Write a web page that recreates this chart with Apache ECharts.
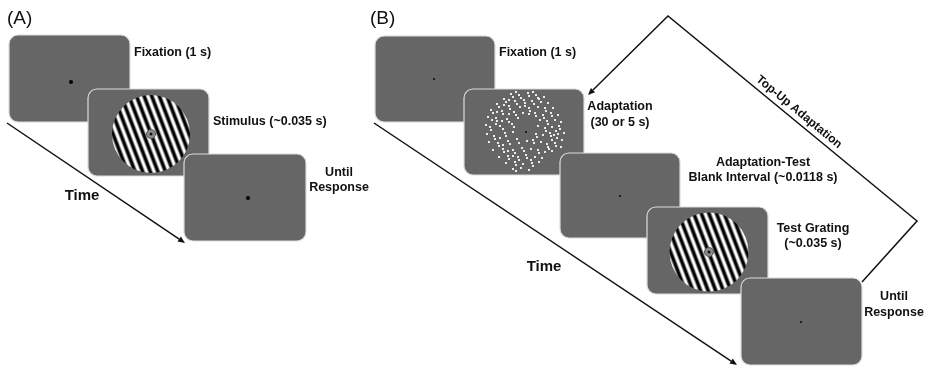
<!DOCTYPE html>
<html>
<head>
<meta charset="utf-8">
<script src="https://cdn.jsdelivr.net/npm/echarts@6/dist/echarts.min.js"></script>
<style>
  html, body { margin: 0; padding: 0; background: #fff; }
  #main { width: 930px; height: 366px; }
</style>
</head>
<body>
<div id="main"></div>
<script>
// screens, in drawing order: [left, top, right, bottom] in picture units
var screens = [
  [9, 35, 130, 122],
  [88, 89, 209, 176],
  [184, 154, 306, 241],
  [375, 36, 495, 122],
  [464, 89, 584, 175],
  [560, 153, 680, 238],
  [647, 207, 768, 294],
  [741, 278, 862, 365]
];
// grating discs: [cx, cy, radius]
var gratings = [[151, 134, 39], [709, 252, 39.5]];
// fixation points
var fixationA = [[71, 82], [248, 198]];
var fixationB = [[434, 79], [526, 132], [620, 196], [801, 322]];
// adaptation dot field (B, second screen)
var adaptDots = [
  [511, 94], [513, 97], [519, 95], [521, 98], [528, 93], [529, 96], [536, 95], [538, 98], [544, 97], [516, 92], [533, 92],
  [504, 99], [506, 102], [515, 101], [517, 104], [524, 100], [525, 103], [532, 101], [534, 104], [541, 102], [548, 103], [509, 100], [539, 99],
  [497, 104], [499, 107], [509, 106], [510, 109], [520, 107], [529, 108], [530, 111], [538, 107], [545, 108], [546, 111], [553, 108], [504, 105], [525, 106],
  [491, 110], [493, 113], [502, 111], [503, 114], [514, 112], [516, 115], [523, 113], [535, 113], [536, 116], [543, 115], [551, 113], [552, 116], [558, 115], [497, 112], [509, 114], [529, 114],
  [488, 117], [496, 118], [497, 121], [507, 119], [509, 122], [518, 118], [540, 120], [547, 121], [548, 124], [555, 120], [561, 122], [492, 120], [502, 121], [544, 118],
  [486, 125], [490, 127], [491, 130], [500, 126], [503, 129], [512, 124], [514, 127], [538, 126], [545, 128], [546, 131], [552, 127], [559, 126], [560, 129], [564, 133], [496, 124], [556, 131],
  [487, 134], [494, 136], [495, 139], [505, 133], [506, 136], [513, 132], [517, 139], [536, 134], [537, 137], [543, 135], [550, 133], [551, 136], [557, 138], [562, 140], [500, 138], [554, 135], [558, 134],
  [489, 142], [498, 143], [499, 146], [508, 141], [510, 144], [519, 143], [527, 141], [533, 140], [534, 143], [541, 142], [547, 144], [548, 147], [555, 143], [556, 146], [561, 147], [503, 145], [552, 140],
  [493, 150], [503, 149], [504, 152], [513, 150], [515, 153], [522, 148], [524, 151], [531, 149], [538, 150], [539, 153], [545, 152], [552, 151], [508, 151], [549, 149],
  [499, 157], [508, 156], [509, 159], [518, 157], [526, 155], [527, 158], [535, 157], [542, 158], [513, 156], [531, 160],
  [506, 163], [515, 162], [516, 165], [523, 164], [532, 163], [533, 166], [539, 162], [519, 160],
  [513, 169], [521, 168], [529, 170], [516, 171]
];
// arrows (last point carries the head)
var timeArrowA = [[7, 123], [185, 243]];
var timeArrowB = [[374, 123], [737, 365]];
var topUpPath = [[862, 282], [917, 221], [668, 16], [588, 95]];
// texts
var labels = [
  { text: '(A)', at: [7, 19], align: 'left', kind: 'panel' },
  { text: '(B)', at: [370, 19], align: 'left', kind: 'panel' },
  { text: 'Fixation (1 s)', at: [134, 53], align: 'left' },
  { text: 'Stimulus (~0.035 s)', at: [213, 122], align: 'left' },
  { text: 'Until', at: [339, 173], align: 'center' },
  { text: 'Response', at: [339, 188], align: 'center' },
  { text: 'Time', at: [82, 196], align: 'center', kind: 'time' },
  { text: 'Fixation (1 s)', at: [499, 53], align: 'left' },
  { text: 'Adaptation', at: [620, 107], align: 'center' },
  { text: '(30 or 5 s)', at: [620, 123], align: 'center' },
  { text: 'Adaptation-Test', at: [763, 163], align: 'center' },
  { text: 'Blank Interval (~0.0118 s)', at: [763, 178], align: 'center' },
  { text: 'Test Grating', at: [813, 229], align: 'center' },
  { text: '(~0.035 s)', at: [813, 244], align: 'center' },
  { text: 'Until', at: [894, 297], align: 'center' },
  { text: 'Response', at: [894, 313], align: 'center' },
  { text: 'Time', at: [544, 267], align: 'center', kind: 'time' },
  { text: 'Top-Up Adaptation', at: [799, 112], align: 'center', kind: 'rotated' }
];

(function () {
  var myChart = echarts.init(document.getElementById('main'));

  // sinusoidal grating as a striped gradient
  function gratingFill(cx, cy, r) {
    var ang = 21 * Math.PI / 180; // stripes lean right going down
    var ux = Math.cos(ang), uy = -Math.sin(ang);
    var periods = 2 * r / 7.1;
    var stops = [];
    var n = 200;
    for (var i = 0; i <= n; i++) {
      var t = i / n;
      var s = Math.cos(2 * Math.PI * periods * t);
      var g = Math.round(Math.max(0, Math.min(255, 120 + 150 * s)));
      stops.push({ offset: t, color: 'rgb(' + g + ',' + g + ',' + g + ')' });
    }
    return new echarts.graphic.LinearGradient(
      cx - r * ux, cy - r * uy, cx + r * ux, cy + r * uy, stops, true
    );
  }

  var arrowPaths = [timeArrowA, timeArrowB, topUpPath];

  var option = {
    animation: false,
    grid: { left: 0, right: 0, top: 0, bottom: 0 },
    xAxis: { type: 'value', min: 0, max: 930, show: false },
    yAxis: { type: 'value', min: 0, max: 366, inverse: true, show: false },
    series: [
      {
        name: 'screens',
        type: 'custom',
        silent: true,
        encode: { x: [0, 2], y: [1, 3] },
        renderItem: function (params, api) {
          var p0 = api.coord([api.value(0), api.value(1)]);
          var p1 = api.coord([api.value(2), api.value(3)]);
          return {
            type: 'rect',
            shape: { x: p0[0], y: p0[1], width: p1[0] - p0[0], height: p1[1] - p0[1], r: 9 },
            style: { fill: '#666666', stroke: '#dcdcdc', lineWidth: 1.2 }
          };
        },
        data: screens,
        z: 1
      },
      {
        name: 'gratings',
        type: 'custom',
        silent: true,
        encode: { x: 0, y: 1 },
        renderItem: function (params, api) {
          var c = api.coord([api.value(0), api.value(1)]);
          var r = api.size([api.value(2), 0])[0];
          return {
            type: 'group',
            children: [
              { type: 'circle', shape: { cx: c[0], cy: c[1], r: r }, style: { fill: gratingFill(c[0], c[1], r) } },
              { type: 'circle', shape: { cx: c[0], cy: c[1], r: 4.5 }, style: { fill: '#8a8a8a', stroke: '#555', lineWidth: 1 } },
              { type: 'circle', shape: { cx: c[0], cy: c[1], r: 1.5 }, style: { fill: '#111' } }
            ]
          };
        },
        data: gratings,
        z: 2
      },
      {
        name: 'adaptation dots',
        type: 'scatter',
        silent: true,
        symbol: 'rect',
        symbolSize: [2, 2],
        itemStyle: { color: '#ececec', opacity: 1 },
        data: adaptDots,
        z: 3
      },
      {
        name: 'fixation A',
        type: 'scatter',
        silent: true,
        symbolSize: 4,
        itemStyle: { color: '#000', opacity: 1 },
        data: fixationA,
        z: 3
      },
      {
        name: 'fixation B',
        type: 'scatter',
        silent: true,
        symbolSize: 2.2,
        itemStyle: { color: '#111', opacity: 1 },
        data: fixationB,
        z: 3
      },
      {
        name: 'arrows',
        type: 'custom',
        silent: true,
        encode: { x: 0, y: 1 },
        renderItem: function (params, api) {
          var path = arrowPaths[params.dataIndex].map(function (d) { return api.coord(d); });
          var a = path[path.length - 2], b = path[path.length - 1];
          var dx = b[0] - a[0], dy = b[1] - a[1];
          var len = Math.sqrt(dx * dx + dy * dy);
          var ux = dx / len, uy = dy / len;
          var hl = 7, hw = 3;
          var base = [b[0] - ux * hl, b[1] - uy * hl];
          var line = path.slice(0, -1).concat([base]);
          return {
            type: 'group',
            children: [
              { type: 'polyline', shape: { points: line }, style: { stroke: '#111', lineWidth: 1.5, fill: null } },
              {
                type: 'polygon',
                shape: { points: [b, [base[0] - uy * hw, base[1] + ux * hw], [base[0] + uy * hw, base[1] - ux * hw]] },
                style: { fill: '#111' }
              }
            ]
          };
        },
        data: arrowPaths.map(function (p) { return p[p.length - 1]; }),
        z: 4
      },
      {
        name: 'labels',
        type: 'custom',
        silent: true,
        encode: { x: 0, y: 1 },
        renderItem: function (params, api) {
          var l = labels[params.dataIndex];
          var p = api.coord([api.value(0), api.value(1)]);
          var size = 12.5, weight = 'bold', rot = 0;
          if (l.kind === 'panel') { size = 19; weight = 'normal'; }
          if (l.kind === 'time') { size = 15; }
          if (l.kind === 'rotated') { size = 12; rot = -39.5 * Math.PI / 180; }
          return {
            type: 'text',
            x: p[0],
            y: p[1],
            rotation: rot,
            style: {
              text: l.text,
              fontFamily: '"Liberation Sans", Arial, sans-serif',
              fontSize: size,
              fontWeight: weight,
              fill: '#111',
              align: l.align,
              verticalAlign: 'middle'
            }
          };
        },
        data: labels.map(function (l) { return l.at; }),
        z: 5
      }
    ]
  };

  if (option && typeof option === 'object') {
    myChart.setOption(option);
  }
  window.addEventListener('resize', myChart.resize);
})();
</script>
</body>
</html>
